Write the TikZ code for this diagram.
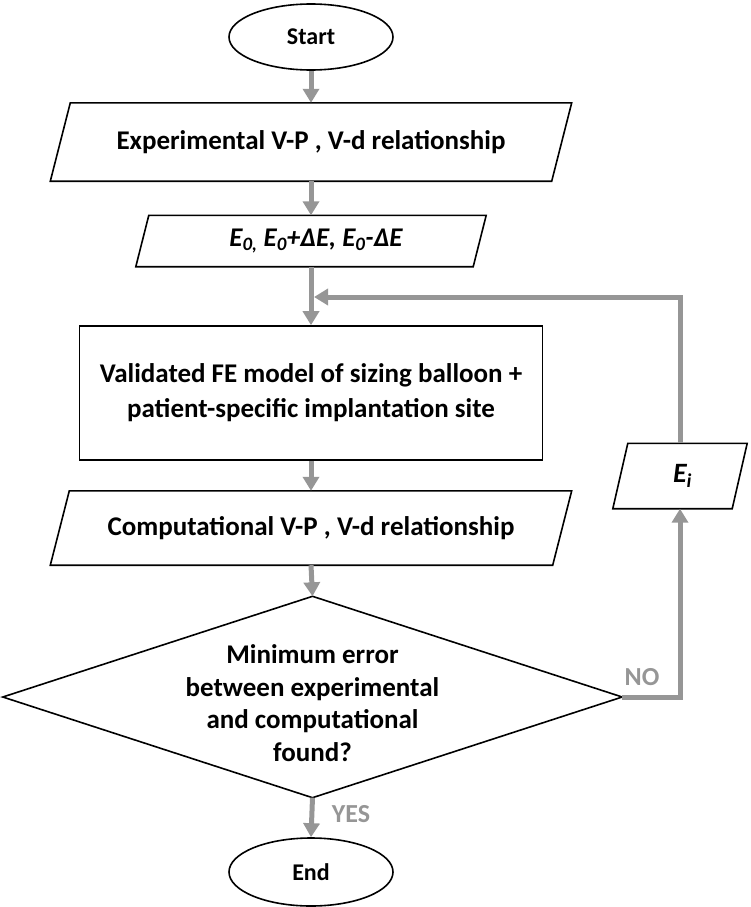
\documentclass[tikz,border=0pt]{standalone}
\usepackage{fontspec}
\setmainfont{Carlito}
\usetikzlibrary{arrows.meta,shapes.geometric,calc}
\definecolor{flowgray}{RGB}{150,150,150}
\begin{document}
\begin{tikzpicture}[x=1pt,y=-1pt,
  outline/.style={draw=black,line width=1.6pt},
  flow/.style={draw=flowgray,line width=5pt,-{Triangle[width=16pt,length=14pt]}},
  txt/.style={font=\bfseries\fontsize{27}{35}\selectfont,align=center,inner sep=0pt},
  term/.style={ellipse,outline,inner sep=0pt,minimum width=164pt,minimum height=66pt,font=\bfseries\fontsize{24}{28}\selectfont},
  tag/.style={text=flowgray,inner sep=0pt,font=\bfseries\fontsize{26}{30}\selectfont}]
\useasboundingbox (0,0) rectangle (750,907);

% terminals
\node[term] (start) at (311,37) {Start};
\node[term,minimum height=68pt] (end) at (311,872) {End};

% parallelogram 1
\node[txt,minimum width=501pt,minimum height=78pt] (b1) at (311,142) {Experimental V-P , V-d relationship};
\draw[outline] ([xshift=10pt]b1.north west) -- ([xshift=10pt]b1.north east)
  -- ([xshift=-10pt]b1.south east) -- ([xshift=-10pt]b1.south west) -- cycle;

% parallelogram 2
\node[txt,font=\bfseries\itshape\fontsize{27}{32}\selectfont,minimum width=337pt,minimum height=51pt] (b2) at (311,241)
  {\hspace{10pt}E\textsubscript{0,} E\textsubscript{0}+ΔE, E\textsubscript{0}-ΔE};
\draw[outline] ([xshift=6.5pt]b2.north west) -- ([xshift=6.5pt]b2.north east)
  -- ([xshift=-6.5pt]b2.south east) -- ([xshift=-6.5pt]b2.south west) -- cycle;

% rectangle
\node[txt,outline,minimum width=463pt,minimum height=134pt] (b3) at (311,393)
  {Validated FE model of sizing balloon +\\patient-specific implantation site};

% parallelogram 4
\node[txt,minimum width=502pt,minimum height=74pt] (b4) at (311,528) {Computational V-P , V-d relationship};
\draw[outline] ([xshift=9.5pt]b4.north west) -- ([xshift=9.5pt]b4.north east)
  -- ([xshift=-9.5pt]b4.south east) -- ([xshift=-9.5pt]b4.south west) -- cycle;

% decision
\node[minimum width=619pt,minimum height=201pt,inner sep=0pt] (dia) at (312.5,697) {};
\draw[outline] (dia.north) -- (dia.east) -- (dia.south) -- (dia.west) -- cycle;
\node[txt,font=\bfseries\fontsize{27}{32.5}\selectfont] (diatext) at (312.5,703)
  {Minimum error\\between experimental\\and computational\\found?};

% E_i
\node[txt,font=\bfseries\itshape\fontsize{28}{32}\selectfont,minimum width=119pt,minimum height=65pt] (ei) at (680,476)
  {\hspace{5pt}E\textsubscript{i}};
\draw[outline] ([xshift=7.5pt]ei.north west) -- ([xshift=7.5pt]ei.north east)
  -- ([xshift=-7.5pt]ei.south east) -- ([xshift=-7.5pt]ei.south west) -- cycle;

\coordinate (join) at (314,297);

% connectors
\draw[flow] (start.south) -- (b1.north);
\draw[flow] (b1.south) -- (b2.north);
\draw[flow] (b2.south) -- (b3.north);
\draw[flow] (b3.south) -- (b4.north);
\draw[flow] (b4.south) -- (dia.north);
\draw[flow] (dia.south) -- (end.north);
\draw[flow] (dia.east) -| (ei.south);
\draw[flow] (ei.north) |- (join);

\node[tag] (no) at (642,677) {NO};
\node[tag] (yes) at (351,814) {YES};
\end{tikzpicture}
\end{document}
